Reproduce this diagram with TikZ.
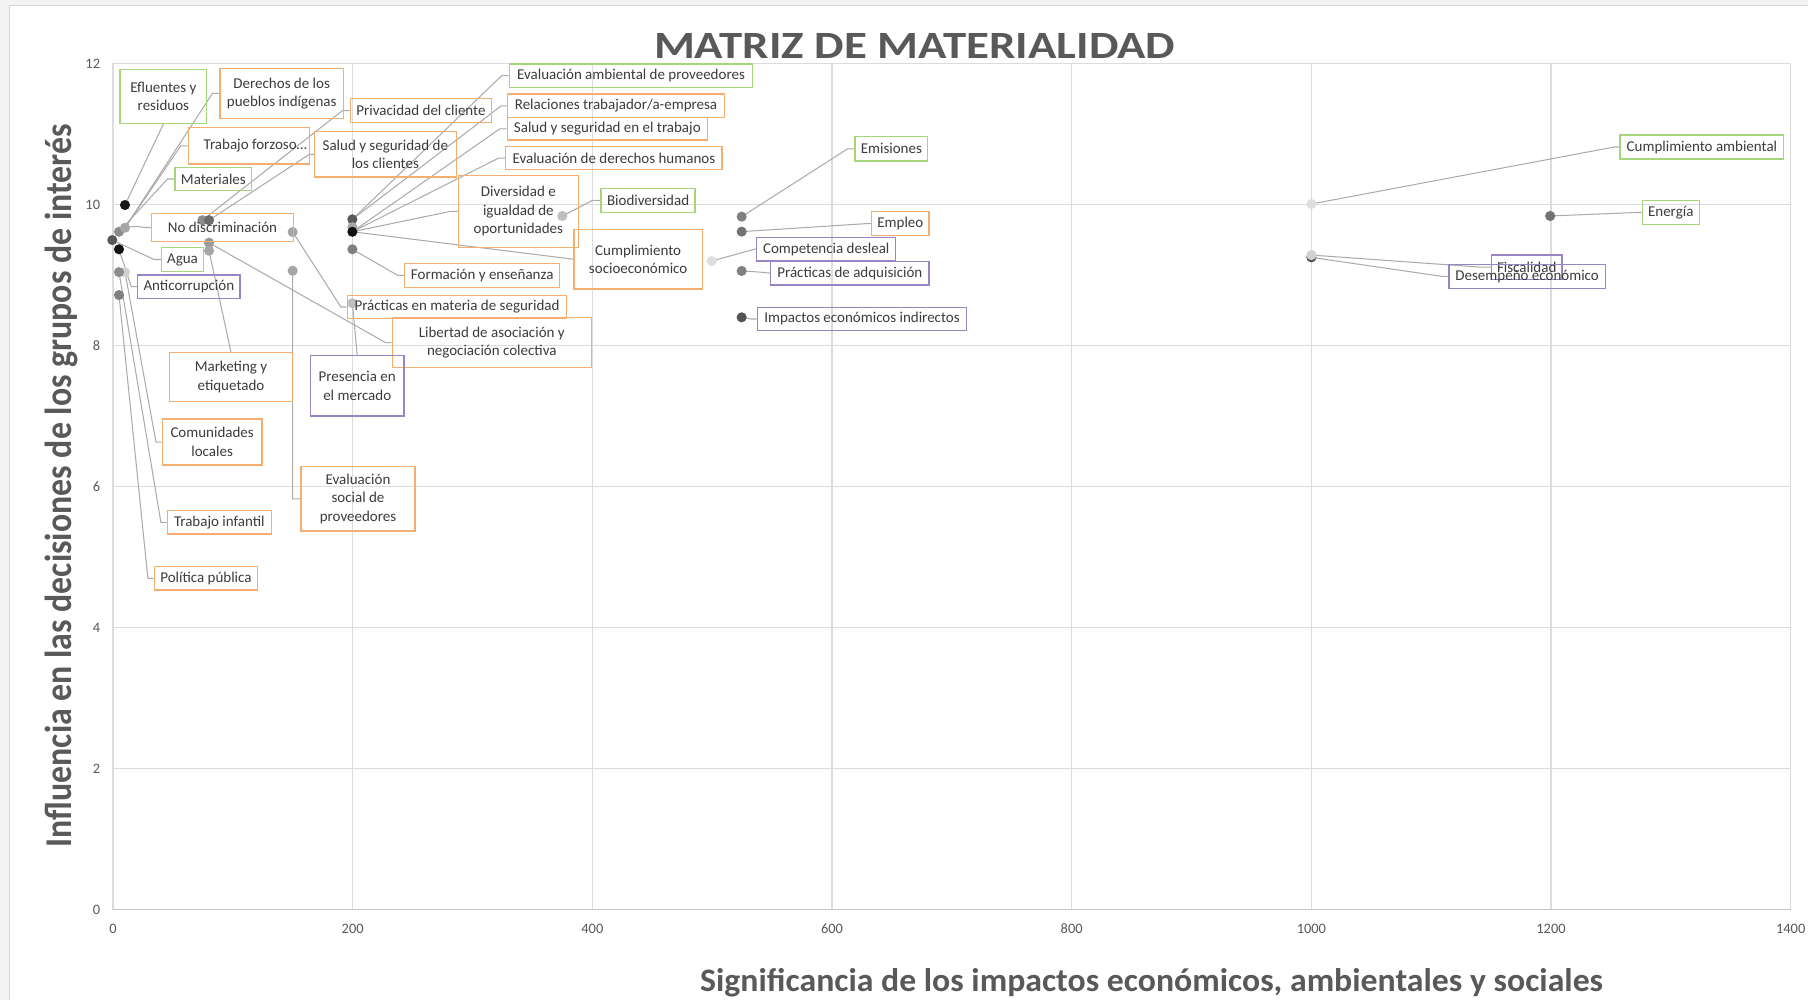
\documentclass[tikz,border=0pt]{standalone}
\usepackage{fontspec}
\setmainfont{Carlito}
\usepackage{graphicx}
\definecolor{txt}{HTML}{3C3C3C}
\definecolor{titc}{HTML}{595959}
\definecolor{tickc}{HTML}{595959}
\definecolor{lgreen}{HTML}{A6D67C}
\definecolor{lorange}{HTML}{F5AE72}
\definecolor{lpurple}{HTML}{9A85C4}
\definecolor{leadc}{HTML}{ABABAB}
\definecolor{gridc}{HTML}{DCDCDC}
\definecolor{axisc}{HTML}{C4C4C4}
\definecolor{bgc}{HTML}{F3F3F3}
\definecolor{framec}{HTML}{D6D6D6}
\pgfdeclarelayer{gridl}
\pgfdeclarelayer{lines}
\pgfsetlayers{gridl,lines,main}
\begin{document}
\begin{tikzpicture}[x=1pt,y=-1pt,
  lab/.style={draw, rectangle, line width=1.1pt, inner sep=0pt, align=center, text=txt, font=\fontsize{13}{16}\selectfont},
  lg/.style={lab, draw=lgreen},
  lo/.style={lab, draw=lorange},
  lp/.style={lab, draw=lpurple},
  mpoint/.style={circle, inner sep=0pt, minimum size=8.8pt, fill=black!#1},
  lead/.style={draw=leadc, line width=0.9pt},
  tick/.style={inner sep=0pt, text=tickc, font=\fontsize{12.5}{15}\selectfont}
]
\useasboundingbox (0,0) rectangle (1568,867);
\begin{pgfonlayer}{gridl}
\fill[bgc] (0,0) rectangle (1568,867);
\fill[white] (8,4.5) rectangle (1600,900);
\draw[framec, line width=1pt] (8,900) -- (8,4.5) -- (1600,4.5);
\foreach \k in {0,...,7}{
  \draw[gridc, line width=1pt] ({98+\k*207.857},55) -- ({98+\k*207.857},789);
  \pgfmathtruncatemacro\v{\k*200}
  \node[tick, anchor=north] (xl\k) at ({98+\k*207.857},801) {\v};
}
\foreach \k in {1,...,6}{
  \draw[gridc, line width=1pt] (98,{789-\k*122.333}) -- (1553,{789-\k*122.333});
}
\foreach \k in {0,...,6}{
  \pgfmathtruncatemacro\v{\k*2}
  \node[tick, anchor=east] (yl\k) at (87,{789-\k*122.333}) {\v};
}
\draw[axisc, line width=1.2pt] (98,789) -- (1553,789);
\end{pgfonlayer}

% titles
\node[anchor=base west, inner sep=0pt, text=titc] (title) at (567,50.6) {\resizebox{452pt}{21.7pt}{\bfseries MATRIZ DE MATERIALIDAD}};
\node[anchor=base west, inner sep=0pt, text=titc] (xtitle) at (607,860) {\resizebox{783pt}{20pt}{\bfseries Significancia de los impactos económicos, ambientales y sociales}};
\node[anchor=base west, inner sep=0pt, rotate=90, text=titc] (ytitle) at (62,735) {\resizebox{627pt}{23pt}{\bfseries Influencia en las decisiones de los grupos de interés}};

% data points
\node[mpoint=45] (d2) at (103.2,201) {};
\node[mpoint=35] (d3) at (108.4,197.5) {};
\node[mpoint=90] (d1) at (108.4,177.8) {};
\node[mpoint=65] (d4) at (97.4,208.2) {};
\node[mpoint=93] (d5) at (103.2,216.2) {};
\node[mpoint=18] (d7) at (108.4,236) {};
\node[mpoint=45] (d6) at (103.2,236) {};
\node[mpoint=50] (d8) at (103.2,255.9) {};
\node[mpoint=45] (d9) at (175.5,191) {};
\node[mpoint=58] (d10) at (181.3,191) {};
\node[mpoint=40] (d11) at (181.3,210.5) {};
\node[mpoint=35] (d12) at (181.3,217.4) {};
\node[mpoint=35] (d13) at (253.8,201.2) {};
\node[mpoint=35] (d14) at (253.8,234.8) {};
\node[mpoint=65] (d15) at (305.6,190.2) {};
\node[mpoint=35] (d16) at (305.6,197) {};
\node[mpoint=93] (d17) at (305.6,201) {};
\node[mpoint=50] (d18) at (305.6,216.2) {};
\node[mpoint=25] (d19) at (305.6,263) {};
\node[mpoint=25] (d20) at (487.7,187.3) {};
\node[mpoint=13] (d21) at (617.3,226.4) {};
\node[mpoint=50] (d22) at (643.2,187.9) {};
\node[mpoint=55] (d23) at (643.2,200.9) {};
\node[mpoint=50] (d24) at (643.2,235) {};
\node[mpoint=67] (d25) at (643.2,275.2) {};
\node[mpoint=13] (d26) at (1137.3,176.9) {};
\node[mpoint=67] (d27) at (1137.3,223.2) {};
\node[mpoint=18] (d28) at (1137.3,221.2) {};
\node[mpoint=55] (d29) at (1344.4,187.3) {};

% labels
\node[lg, minimum width=75.3pt, minimum height=46.9pt] (eflu) at (141.7,83.5) {Efluentes y\\residuos};
\node[lo, minimum width=107pt, minimum height=43.3pt] (dere) at (244.3,81) {Derechos de los\\pueblos indígenas};
\node[lo, minimum width=105pt, minimum height=31.5pt] (forz) at (215.8,126.5) {\makebox[101pt][r]{Trabajo forzoso…}};
\node[lg, minimum width=66.5pt, minimum height=20.3pt] (mate) at (185.05,155.25) {Materiales};
\node[lo, minimum width=122.9pt, minimum height=24.6pt] (nodi) at (192.95,197.3) {No discriminación};
\node[lg, minimum width=36.1pt, minimum height=21.1pt] (agua) at (158.25,225.05) {Agua};
\node[lp, minimum width=88.8pt, minimum height=20.2pt] (anti) at (163.8,248.6) {Anticorrupción};
\node[lo, minimum width=122.8pt, minimum height=20.5pt] (priv) at (365.1,95.85) {Privacidad del cliente};
\node[lo, minimum width=122.8pt, minimum height=39.3pt] (sacl) at (334.2,133.85) {Salud y seguridad de\\los clientes};
\node[lg, minimum width=211.1pt, minimum height=20.2pt] (evam) at (547.25,65.6) {Evaluación ambiental de proveedores};
\node[lo, minimum width=187.9pt, minimum height=20.5pt] (rela) at (534.25,91.75) {Relaciones trabajador/a-empresa};
\node[lo, minimum width=173.4pt, minimum height=19.4pt] (satr) at (526.7,111.7) {Salud y seguridad en el trabajo};
\node[lo, minimum width=187.6pt, minimum height=19.7pt] (evdh) at (532.4,137.05) {Evaluación de derechos humanos};
\node[lo, minimum width=104.1pt, minimum height=62.5pt] (dive) at (449.55,183.25) {Diversidad e\\igualdad de\\oportunidades};
\node[lg, minimum width=81.5pt, minimum height=20.8pt] (biod) at (562.05,173.7) {Biodiversidad};
\node[lo, minimum width=111.3pt, minimum height=51.8pt] (cuso) at (553.45,224.8) {Cumplimiento\\socioeconómico};
\node[lo, minimum width=134.4pt, minimum height=20.8pt] (form) at (418.2,238.8) {Formación y enseñanza};
\node[lo, minimum width=190.3pt, minimum height=20.3pt] (prse) at (396.35,266.25) {Prácticas en materia de seguridad};
\node[lo, minimum width=172.6pt, minimum height=43.7pt] (libe) at (426.5,297.05) {Libertad de asociación y\\negociación colectiva};
\node[lo, minimum width=107pt, minimum height=42.1pt] (mark) at (200.3,326.95) {Marketing y\\etiquetado};
\node[lp, minimum width=81.2pt, minimum height=52.3pt] (pres) at (309.8,334.65) {Presencia en\\el mercado};
\node[lo, minimum width=99pt, minimum height=55.8pt] (evso) at (310.5,432.6) {Evaluación\\social de\\proveedores};
\node[lo, minimum width=86.4pt, minimum height=39.9pt] (comu) at (184,383.35) {Comunidades\\locales};
\node[lo, minimum width=90.2pt, minimum height=20.2pt] (infa) at (190.2,453) {Trabajo infantil};
\node[lo, minimum width=89.7pt, minimum height=20.2pt] (poli) at (178.65,501.6) {Política pública};
\node[lg, minimum width=63.1pt, minimum height=21.1pt] (emis) at (773.05,129.05) {Emisiones};
\node[lo, minimum width=49.7pt, minimum height=20.8pt] (empl) at (780.85,194) {Empleo};
\node[lp, minimum width=120.5pt, minimum height=20.6pt] (comp) at (716.55,216.1) {Competencia desleal};
\node[lp, minimum width=137.3pt, minimum height=20.6pt] (adqu) at (737.05,236.9) {Prácticas de adquisición};
\node[lp, minimum width=181.6pt, minimum height=20.3pt] (impa) at (747.6,276.65) {Impactos económicos indirectos};
\node[lg, minimum width=142pt, minimum height=21pt] (cuam) at (1476,127.5) {Cumplimiento ambiental};
\node[lg, minimum width=49.3pt, minimum height=20.6pt] (ener) at (1448.95,184.3) {Energía};
\node[lp, minimum width=61.1pt, minimum height=21.1pt] (fisc) at (1324.05,231.75) {Fiscalidad};
\node[lp, minimum width=135.4pt, minimum height=20.5pt] (dese) at (1324.4,239.75) {Desempeño económico};

% leader lines
\begin{pgfonlayer}{lines}
\draw[lead] (d1.center) -- (eflu.south);
\draw[lead] (d3.center) -- ([xshift=-6pt]dere.west) -- (dere.west);
\draw[lead] (d3.center) -- ([xshift=-6pt]forz.west) -- (forz.west);
\draw[lead] (d2.center) -- ([xshift=-6pt]mate.west) -- (mate.west);
\draw[lead] (d3.center) .. controls (118,196) .. ([xshift=-6pt]nodi.west) -- (nodi.west);
\draw[lead] (d4.center) -- ([xshift=-6pt]agua.west) -- (agua.west);
\draw[lead] (d5.center) -- ([xshift=-5pt]anti.west) -- (anti.west);
\draw[lead] (d7.center) -- ([xshift=-5pt]comu.west) -- (comu.west);
\draw[lead] (d6.center) -- ([xshift=-5pt]infa.west) -- (infa.west);
\draw[lead] (d8.center) -- ([xshift=-5pt]poli.west) -- (poli.west);
\draw[lead] (d9.center) -- ([xshift=-6pt]priv.west) -- (priv.west);
\draw[lead] (d10.center) -- ([xshift=-4pt]sacl.west) -- (sacl.west);
\draw[lead] (d11.center) -- ([xshift=-5.4pt]libe.west) -- (libe.west);
\draw[lead] (d12.center) -- (mark.north);
\draw[lead] (d13.center) -- ([xshift=-5pt]prse.west) -- (prse.west);
\draw[lead] (d14.center) -- ([xshift=-6.6pt]evso.west) -- (evso.west);
\draw[lead] (d15.center) -- ([xshift=-6pt]evam.west) -- (evam.west);
\draw[lead] (d15.center) -- ([xshift=-5pt]rela.west) -- (rela.west);
\draw[lead] (d17.center) -- ([xshift=-6pt]satr.west) -- (satr.west);
\draw[lead] (d17.center) -- ([xshift=-5.5pt]evdh.west) -- (evdh.west);
\draw[lead] (d17.center) -- ([xshift=-6pt]dive.west) -- (dive.west);
\draw[lead] (d17.center) -- (cuso.west);
\draw[lead] (d18.center) -- ([xshift=-5.5pt]form.west) -- (form.west);
\draw[lead] (d19.center) -- (pres.north);
\draw[lead] (d20.center) -- ([xshift=-6.7pt]biod.west) -- (biod.west);
\draw[lead] (d21.center) -- ([xshift=-1.5pt]comp.west) -- (comp.west);
\draw[lead] (d22.center) -- ([xshift=-5.8pt]emis.west) -- (emis.west);
\draw[lead] (d23.center) -- ([xshift=-5pt]empl.west) -- (empl.west);
\draw[lead] (d24.center) .. controls (660,236) .. (adqu.west);
\draw[lead] (d25.center) -- ([xshift=-5pt]impa.west) -- (impa.west);
\draw[lead] (d26.center) -- ([xshift=-4.6pt]cuam.west) -- (cuam.west);
\draw[lead] (d29.center) -- ([xshift=-5pt]ener.west) -- (ener.west);
\draw[lead] (d28.center) -- ([xshift=-8pt]fisc.west) -- (fisc.west);
\draw[lead] (d27.center) -- ([xshift=-5pt]dese.west) -- (dese.west);
\end{pgfonlayer}
\end{tikzpicture}
\end{document}
